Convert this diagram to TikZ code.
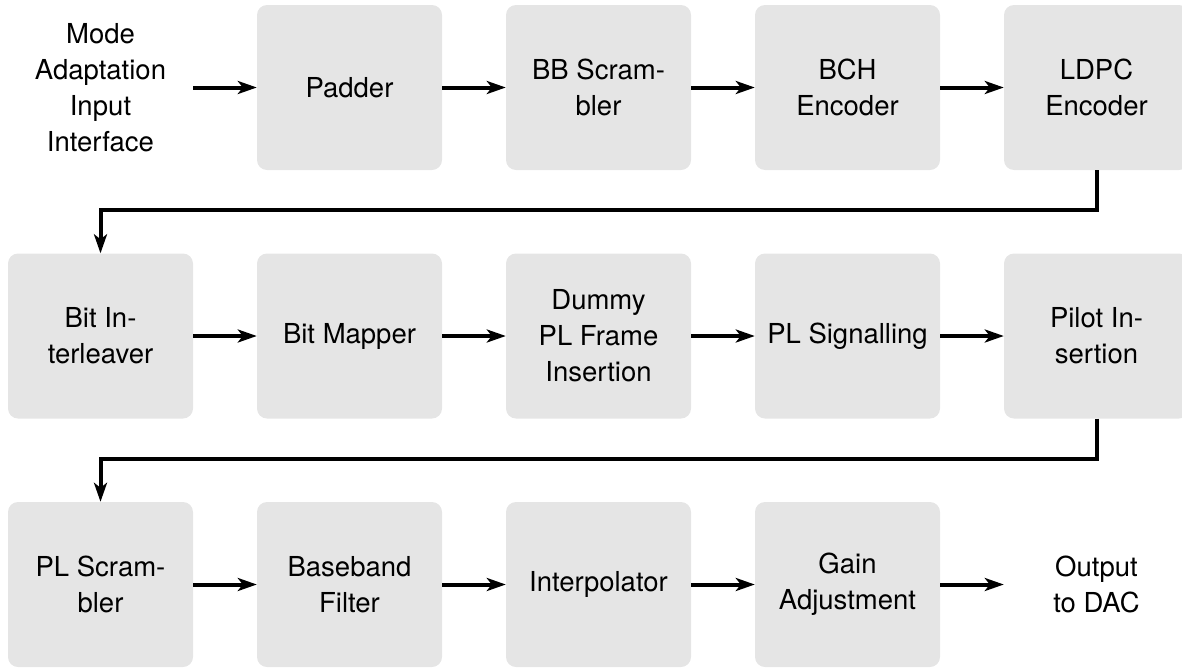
\documentclass[tikz,border=0pt]{standalone}
\usepackage{fontspec}
\setmainfont{TeX Gyre Heros}
\usetikzlibrary{arrows.meta}
\begin{document}
\begin{tikzpicture}[x=1pt,y=-1pt,
  blk/.style={fill=black!10, draw=none, rounded corners=10pt, minimum width=185pt, minimum height=165pt, align=center, inner sep=0pt, font=\fontsize{27.5}{36}\selectfont},
  lbl/.style={draw=none, minimum width=185pt, minimum height=165pt, align=center, inner sep=0pt, font=\fontsize{27.5}{36}\selectfont},
  arr/.style={line width=4pt, -{Stealth[length=19pt,width=13pt,inset=5pt]}}]
\useasboundingbox (0,0) rectangle (1182,667);
% row 1
\node[lbl] (in) at (100.5,87.5) {Mode\\Adaptation\\Input\\Interface};
\node[blk] (padder) at (349.5,87.5) {Padder};
\node[blk] (bbs) at (598.5,87.5) {BB Scram-\\bler};
\node[blk] (bch) at (847.5,87.5) {BCH\\Encoder};
\node[blk] (ldpc) at (1096.5,87.5) {LDPC\\Encoder};
% row 2
\node[blk] (bitint) at (100.5,336) {Bit In-\\terleaver};
\node[blk] (bitmap) at (349.5,336) {Bit Mapper};
\node[blk] (dummy) at (598.5,336) {Dummy\\PL Frame\\Insertion};
\node[blk] (plsig) at (847.5,336) {PL Signalling};
\node[blk] (pilot) at (1096.5,336) {Pilot In-\\sertion};
% row 3
\node[blk] (plscr) at (100.5,584.5) {PL Scram-\\bler};
\node[blk] (bbf) at (349.5,584.5) {Baseband\\Filter};
\node[blk] (interp) at (598.5,584.5) {Interpolator};
\node[blk] (gain) at (847.5,584.5) {Gain\\Adjustment};
\node[lbl] (out) at (1096.5,584.5) {Output\\to DAC};
% connectors
\draw[arr] (in.east) -- (padder.west);
\draw[arr] (padder.east) -- (bbs.west);
\draw[arr] (bbs.east) -- (bch.west);
\draw[arr] (bch.east) -- (ldpc.west);
\draw[arr] (ldpc.south) -- ++(0,40) -| (bitint.north);
\draw[arr] (bitint.east) -- (bitmap.west);
\draw[arr] (bitmap.east) -- (dummy.west);
\draw[arr] (dummy.east) -- (plsig.west);
\draw[arr] (plsig.east) -- (pilot.west);
\draw[arr] (pilot.south) -- ++(0,40) -| (plscr.north);
\draw[arr] (plscr.east) -- (bbf.west);
\draw[arr] (bbf.east) -- (interp.west);
\draw[arr] (interp.east) -- (gain.west);
\draw[arr] (gain.east) -- (out.west);
\end{tikzpicture}
\end{document}
